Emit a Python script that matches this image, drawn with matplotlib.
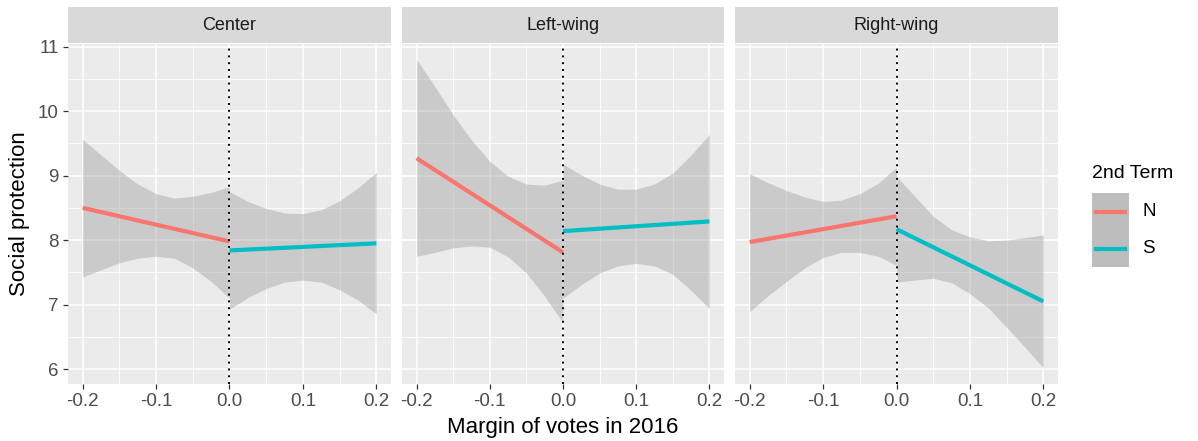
import matplotlib
matplotlib.use('Agg')
import matplotlib.pyplot as plt
from matplotlib.patches import Rectangle
from matplotlib.lines import Line2D

plt.rcParams['font.family'] = ['Liberation Sans', 'DejaVu Sans']

# --- data ---
facets = ["Center", "Left-wing", "Right-wing"]
groups = ["N", "S"]
group_colors = ["#F8766D", "#00BFC4"]

x_neg = [-0.2, -0.175, -0.15, -0.125, -0.1, -0.075, -0.05, -0.025, 0.0]
x_pos = [0.0, 0.025, 0.05, 0.075, 0.1, 0.125, 0.15, 0.175, 0.2]

# fitted line at the two ends of each side, per facet
n_fit = [[8.50, 7.98], [9.27, 7.81], [7.97, 8.37]]
s_fit = [[7.84, 7.95], [8.14, 8.29], [8.17, 7.05]]

# confidence band, per facet, at x_neg / x_pos
n_upper = [[9.56, 9.32, 9.08, 8.87, 8.72, 8.65, 8.68, 8.74, 8.83],
           [10.80, 10.38, 9.94, 9.55, 9.22, 8.99, 8.87, 8.85, 8.93],
           [9.03, 8.89, 8.77, 8.67, 8.60, 8.62, 8.72, 8.88, 9.13]]
n_lower = [[7.43, 7.54, 7.65, 7.72, 7.75, 7.72, 7.57, 7.36, 7.10],
           [7.75, 7.81, 7.88, 7.91, 7.89, 7.74, 7.49, 7.13, 6.72],
           [6.89, 7.14, 7.36, 7.57, 7.73, 7.81, 7.81, 7.75, 7.61]]
s_upper = [[8.75, 8.60, 8.49, 8.42, 8.41, 8.47, 8.61, 8.81, 9.05],
           [9.18, 9.01, 8.87, 8.79, 8.79, 8.87, 9.04, 9.32, 9.64],
           [8.99, 8.68, 8.37, 8.16, 8.05, 7.99, 8.00, 8.04, 8.08]]
s_lower = [[6.93, 7.11, 7.25, 7.35, 7.38, 7.35, 7.23, 7.07, 6.86],
           [7.10, 7.31, 7.49, 7.60, 7.64, 7.60, 7.47, 7.22, 6.94],
           [7.35, 7.38, 7.41, 7.34, 7.17, 6.95, 6.65, 6.34, 6.02]]

x_ticks = [-0.2, -0.1, 0.0, 0.1, 0.2]
x_tick_labels = ["-0.2", "-0.1", "0.0", "0.1", "0.2"]
y_ticks = [6, 7, 8, 9, 10, 11]

W, H = 1198, 441
fig = plt.figure(figsize=(W / 100, H / 100), dpi=100)


def box(l, t, r, b):
    return [l / W, 1 - b / H, (r - l) / W, (b - t) / H]


panels = [(68, 391), (402, 724), (735, 1058)]
for i, (l, r) in enumerate(panels):
    ax = fig.add_axes(box(l, 44, r, 384))
    ax.set_facecolor('#EBEBEB')
    ax.set_xlim(-0.22, 0.22)
    ax.set_ylim(5.77, 11.04)
    ax.set_xticks(x_ticks)
    ax.set_xticklabels(x_tick_labels)
    ax.set_xticks([-0.15, -0.05, 0.05, 0.15], minor=True)
    ax.set_yticks(y_ticks)
    ax.set_yticks([6.5, 7.5, 8.5, 9.5, 10.5], minor=True)
    ax.grid(which='major', color='white', lw=1.1)
    ax.grid(which='minor', color='white', lw=0.55)
    ax.set_axisbelow(True)
    for sp in ax.spines.values():
        sp.set_visible(False)
    ax.tick_params(which='minor', length=0)
    ax.tick_params(which='major', length=3.5, width=0.9, color='#333333',
                   labelcolor='#4D4D4D', labelsize=13.5, pad=3)
    if i > 0:
        ax.tick_params(axis='y', labelleft=False, left=False)

    # bands
    ax.fill_between(x_neg, n_lower[i], n_upper[i], color='#999999', alpha=0.4, lw=0)
    ax.fill_between(x_pos, s_lower[i], s_upper[i], color='#999999', alpha=0.4, lw=0)
    # fitted lines
    ax.plot([x_neg[0], x_neg[-1]], n_fit[i], color=group_colors[0], lw=3, solid_capstyle='butt')
    ax.plot([x_pos[0], x_pos[-1]], s_fit[i], color=group_colors[1], lw=3, solid_capstyle='butt')
    ax.axvline(0, color='black', ls=(0, (1, 2.5)), lw=1.4)

    # facet strip
    sax = fig.add_axes(box(l, 7, r, 43))
    sax.set_facecolor('#D9D9D9')
    sax.set_xticks([])
    sax.set_yticks([])
    for sp in sax.spines.values():
        sp.set_visible(False)
    sax.text(0.5, 0.5, facets[i], ha='center', va='center', size=13, color='#1A1A1A',
             transform=sax.transAxes)

# axis titles
fig.text(563 / W, 1 - 428 / H, "Margin of votes in 2016", ha='center', va='center', size=16)
fig.text(20 / W, 1 - 214 / H, "Social protection", ha='center', va='center', size=16, rotation=90)

# legend
fig.text(1092 / W, 1 - 173 / H, "2nd Term", ha='left', va='center', size=14)
fig.add_artist(Rectangle((1092 / W, 1 - 267 / H), 37 / W, 74 / H, transform=fig.transFigure,
                         facecolor='#BDBDBD', edgecolor='none'))
for k, (g, c) in enumerate(zip(groups, group_colors)):
    y = 1 - (212 + 37 * k) / H
    fig.add_artist(Line2D([1096 / W, 1125 / W], [y, y], transform=fig.transFigure, color=c, lw=3))
    fig.text(1142 / W, y, g, ha='left', va='center', size=13.5)

fig.savefig('out.png', dpi=100)
